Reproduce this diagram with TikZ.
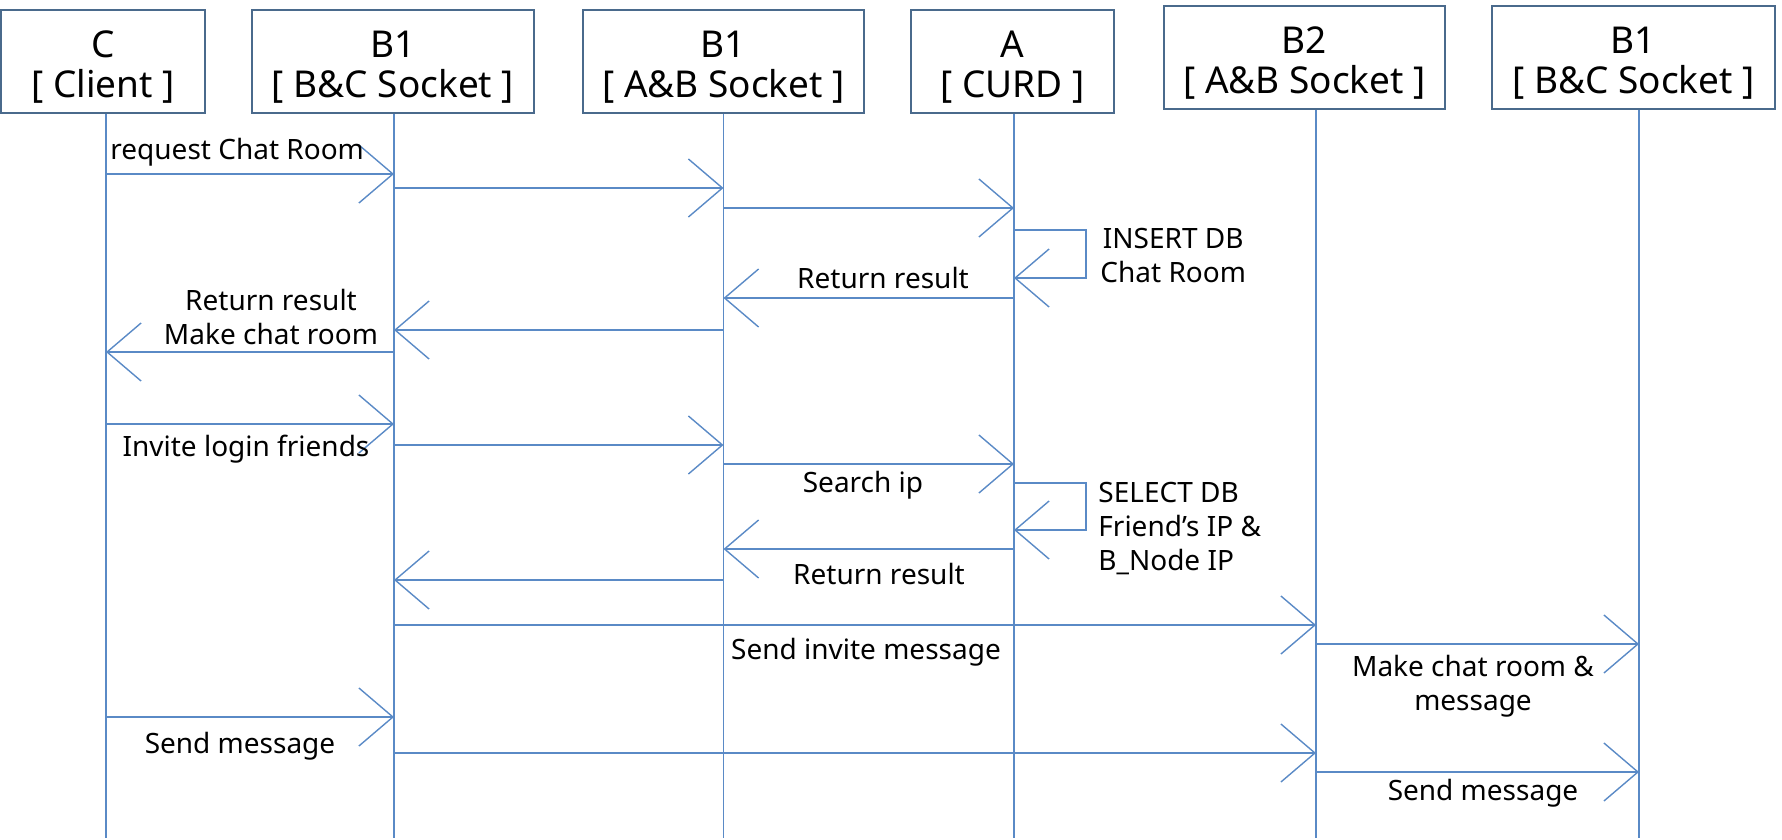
\documentclass[tikz,border=0pt]{standalone}
\usepackage{fontspec}
\setmainfont{Noto Sans}
\usepackage{xcolor}
\usetikzlibrary{positioning, arrows.meta}

\definecolor{boxline}{HTML}{4A6A8C}
\definecolor{msgline}{HTML}{5A8AC6}

\newcommand{\toprule}{\rule{0pt}{18pt}}

\tikzset{
    head/.style={draw=boxline, line width=1pt, align=center, inner sep=0pt,
        minimum height=51.5pt, font=\fontsize{18.5}{20}\selectfont},
    life/.style={draw=msgline, line width=0.7pt},
    msg/.style={draw=msgline, line width=0.7pt,
        -{Straight Barb[length=17pt, width=29pt, line width=0.7pt]}},
    lbl/.style={inner sep=0pt, align=center, yshift=-1.2pt,
        font=\fontsize{14}{17}\selectfont}
}

\begin{document}
\begin{tikzpicture}[x=0.5pt, y=-0.5pt]
    \useasboundingbox (0,0) rectangle (1782,840);

    % Headers
    \node[head, minimum width=102pt] (hC) at (103,62) {\toprule C\\{[} Client ]};
    \node[head, minimum width=141pt] (hBbc) at (393,62) {\toprule B1\\{[} B\&C Socket ]};
    \node[head, minimum width=140.5pt] (hBab) at (723.5,62) {\toprule B1\\{[} A\&B Socket ]};
    \node[head, minimum width=101.5pt] (hA) at (1012.5,62) {\toprule A\\{[} CURD ]};
    \node[head, minimum width=140.5pt] (hBab2) at (1304.5,58) {\toprule B2\\{[} A\&B Socket ]};
    \node[head, minimum width=141.5pt] (hBbc2) at (1633.5,58) {\toprule B1\\{[} B\&C Socket ]};

    % Lifelines
    \coordinate (C) at (106,0);
    \coordinate (Bbc) at (394,0);
    \coordinate (Bab) at (723.5,0);
    \coordinate (A) at (1014,0);
    \coordinate (Bab2) at (1316,0);
    \coordinate (Bbc2) at (1639,0);
    \foreach \n in {C, Bbc, Bab, A, Bab2, Bbc2} {
        \draw[life] (h\n.south -| \n) -- (\n |- 0,838);
    }

    % Messages
    \foreach \from/\to/\y in {C/Bbc/174, Bbc/Bab/188, Bab/A/208, A/Bab/298,
        Bab/Bbc/330, Bbc/C/352, C/Bbc/424, Bbc/Bab/445, Bab/A/464,
        A/Bab/549, Bab/Bbc/580, Bbc/Bab2/625, Bab2/Bbc2/644,
        C/Bbc/717, Bbc/Bab2/753, Bab2/Bbc2/772} {
        \draw[msg] (\from |- 0,\y) -- (\to |- 0,\y);
    }

    % Self calls on A
    \draw[msg] (A |- 0,230) -- ++(72,0) |- (A |- 0,278);
    \draw[msg] (A |- 0,483) -- ++(72,0) |- (A |- 0,530);

    % Labels
    \node[lbl, anchor=west] (l1) at (110,150) {request Chat Room};
    \node[lbl, anchor=west] (l2) at (1100,253) {INSERT DB\\Chat Room};
    \node[lbl] (l3) at (883,276) {Return result};
    \node[lbl] (l4) at (271,315) {Return result\\Make chat room};
    \node[lbl] (l5) at (246,447) {Invite login friends};
    \node[lbl] (l6) at (863,483) {Search ip};
    \node[lbl, anchor=west, align=left] (l7) at (1098,526) {SELECT DB\\Friend’s IP \&\\B\_Node IP};
    \node[lbl] (l8) at (879,572) {Return result};
    \node[lbl] (l9) at (866,650) {Send invite message};
    \node[lbl] (l10) at (1473,684) {Make chat room \&\\message};
    \node[lbl] (l11) at (240,744) {Send message};
    \node[lbl] (l12) at (1483,791) {Send message};
\end{tikzpicture}
\end{document}
